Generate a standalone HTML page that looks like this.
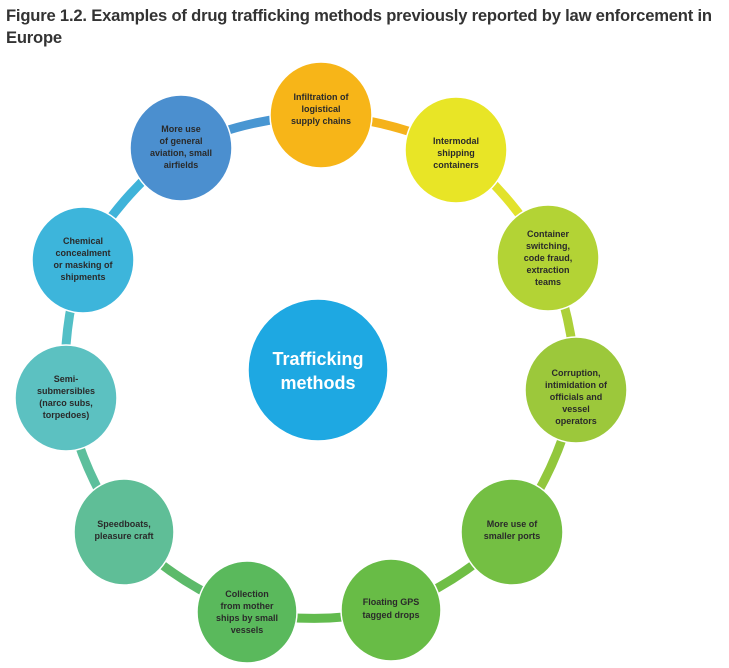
<!DOCTYPE html>
<html><head><meta charset="utf-8"><style>
body{margin:0;background:#fff;width:729px;height:668px;overflow:hidden;font-family:"Liberation Sans",sans-serif}
.t{position:absolute;left:6px;top:5px;font-weight:bold;font-size:16.6px;line-height:22px;color:#333;letter-spacing:-0.2px}
svg{position:absolute;left:0;top:0}
svg text{font-family:"Liberation Sans",sans-serif;font-weight:bold;font-size:9px;fill:#2a2a2a;text-anchor:middle}
</style></head><body>
<div class="t">Figure 1.2. Examples of drug trafficking methods previously reported by law enforcement in<br>Europe</div>
<svg width="729" height="668">
<g stroke-width="9" fill="none">
<path d="M321 115 A360 360 0 0 1 456 150" stroke="#f5b21b"/>
<path d="M456 150 A360 360 0 0 1 548 258" stroke="#e2e22c"/>
<path d="M548 258 A360 360 0 0 1 576 390" stroke="#acd039"/>
<path d="M576 390 A360 360 0 0 1 512 532" stroke="#92c73c"/>
<path d="M512 532 A360 360 0 0 1 391 610" stroke="#6fbe45"/>
<path d="M391 610 A360 360 0 0 1 247 612" stroke="#62bb4e"/>
<path d="M247 612 A360 360 0 0 1 124 532" stroke="#5cba6a"/>
<path d="M124 532 A360 360 0 0 1 66 398" stroke="#5cbf9c"/>
<path d="M66 398 A360 360 0 0 1 83 260" stroke="#52bfc6"/>
<path d="M83 260 A360 360 0 0 1 181 148" stroke="#3fb3d9"/>
<path d="M181 148 A360 360 0 0 1 321 115" stroke="#4896d2"/>
</g>
<g stroke="#fff" stroke-width="1.5">
<ellipse cx="321" cy="115" rx="51" ry="53" fill="#f7b518"/>
<ellipse cx="456" cy="150" rx="51" ry="53" fill="#e8e526"/>
<ellipse cx="548" cy="258" rx="51" ry="53" fill="#b3d335"/>
<ellipse cx="576" cy="390" rx="51" ry="53" fill="#9cc83b"/>
<ellipse cx="512" cy="532" rx="51" ry="53" fill="#74bf43"/>
<ellipse cx="391" cy="610" rx="50" ry="51" fill="#68bc46"/>
<ellipse cx="247" cy="612" rx="50" ry="51" fill="#5ab95c"/>
<ellipse cx="124" cy="532" rx="50" ry="53" fill="#5fbe97"/>
<ellipse cx="66" cy="398" rx="51" ry="53" fill="#5cc1c1"/>
<ellipse cx="83" cy="260" rx="51" ry="53" fill="#3db5db"/>
<ellipse cx="181" cy="148" rx="51" ry="53" fill="#4b8fcf"/>
<ellipse cx="318" cy="370" rx="70" ry="71" fill="#1ea8e2"/>
</g>
<text x="321" y="100">Infiltration of</text><text x="321" y="112">logistical</text><text x="321" y="124">supply chains</text>
<text x="456" y="144">Intermodal</text><text x="456" y="156">shipping</text><text x="456" y="168">containers</text>
<text x="548" y="237">Container</text><text x="548" y="249">switching,</text><text x="548" y="261">code fraud,</text><text x="548" y="273">extraction</text><text x="548" y="285">teams</text>
<text x="576" y="376">Corruption,</text><text x="576" y="388">intimidation of</text><text x="576" y="400">officials and</text><text x="576" y="412">vessel</text><text x="576" y="424">operators</text>
<text x="512" y="527">More use of</text><text x="512" y="539">smaller ports</text>
<text x="391" y="605">Floating GPS</text><text x="391" y="618">tagged drops</text>
<text x="247" y="597">Collection</text><text x="247" y="609">from mother</text><text x="247" y="621">ships by small</text><text x="247" y="633">vessels</text>
<text x="124" y="527">Speedboats,</text><text x="124" y="539">pleasure craft</text>
<text x="66" y="382">Semi-</text><text x="66" y="394">submersibles</text><text x="66" y="406">(narco subs,</text><text x="66" y="418">torpedoes)</text>
<text x="83" y="244">Chemical</text><text x="83" y="256">concealment</text><text x="83" y="268">or masking of</text><text x="83" y="280">shipments</text>
<text x="181" y="132">More use</text><text x="181" y="144">of general</text><text x="181" y="156">aviation, small</text><text x="181" y="168">airfields</text>
<text x="318" y="365" style="font-size:18px;fill:#fff">Trafficking</text>
<text x="318" y="389" style="font-size:18px;fill:#fff">methods</text>
</svg>
</body></html>
